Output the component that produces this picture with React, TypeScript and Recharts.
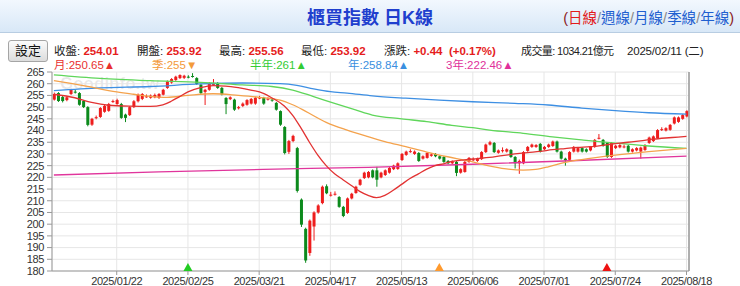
import { Bar, CartesianGrid, ComposedChart, Line, ReferenceDot, XAxis, YAxis } from 'recharts';

// daily candles, index 0 = first trading day shown
const OPEN = [
  253.2, 256.0, 254.3, 253.0, 255.6, 256.6, 256.0, 252.6, 250.0, 242.5,
  245.3, 245.8, 248.0, 248.4, 252.3, 251.3, 251.3, 246.8, 246.6, 250.0,
  252.5, 253.5, 254.4, 254.0, 254.2, 253.9, 255.3, 258.2, 260.5, 261.6,
  262.4, 262.5, 263.0, 263.3, 262.4, 259.6, 256.5, 257.4, 259.5, 260.3,
  258.2, 253.9, 253.4, 253.2, 249.5, 250.5, 251.0, 251.5, 251.5, 254.0,
  254.0, 253.3, 253.2, 251.8, 248.3, 241.5, 230.9, 235.5, 232.5, 210.5,
  198.0, 187.7, 199.0, 205.0, 209.0, 216.2, 212.4, 212.8, 211.6, 207.4,
  204.8, 211.0, 213.3, 216.8, 219.7, 220.0, 223.0, 223.0, 220.0, 221.0,
  222.0, 223.5, 223.6, 227.4, 229.6, 231.0, 230.0, 230.4, 228.0, 228.3,
  229.2, 230.0, 229.0, 228.7, 227.0, 226.0, 226.6, 222.0, 222.3, 226.6,
  227.5, 227.0, 227.8, 230.8, 234.0, 234.7, 230.5, 231.4, 231.0, 231.7,
  228.7, 226.0, 226.0, 231.3, 233.0, 233.0, 234.3, 232.0, 233.0, 233.4,
  235.3, 231.0, 228.0, 227.5, 231.0, 231.0, 232.5, 232.0, 231.5, 233.0,
  236.6, 236.0, 234.7, 228.7, 232.5, 232.8, 233.0, 233.5, 231.0, 231.5,
  231.0, 231.7, 234.7, 235.5, 236.8, 240.3, 240.0, 240.3, 243.0, 243.7,
  245.0, 246.0,
];
const CLOSE = [
  255.6, 252.6, 252.6, 254.2, 257.4, 256.4, 251.0, 250.0, 242.4, 245.0,
  245.7, 249.6, 250.5, 251.3, 252.6, 253.0, 245.4, 245.4, 250.0, 252.5,
  255.3, 255.6, 254.6, 254.9, 255.2, 255.6, 257.4, 261.0, 262.0, 263.0,
  263.7, 263.4, 262.8, 263.1, 259.9, 256.0, 257.4, 260.3, 260.3, 258.2,
  255.4, 251.3, 254.2, 248.9, 250.0, 251.5, 253.0, 253.5, 254.0, 254.1,
  251.5, 253.6, 252.8, 248.9, 242.5, 230.4, 235.5, 237.7, 214.2, 199.8,
  184.5, 201.5, 205.0, 208.0, 216.0, 213.2, 212.6, 213.0, 207.4, 203.5,
  211.0, 213.0, 216.0, 219.0, 222.0, 222.3, 220.0, 219.0, 222.0, 223.0,
  224.0, 225.0, 226.0, 230.0, 231.0, 231.2, 231.0, 227.0, 229.0, 230.4,
  229.8, 229.0, 228.0, 226.6, 226.0, 226.8, 221.9, 223.5, 226.6, 228.3,
  227.7, 228.0, 230.8, 234.0, 235.0, 230.8, 231.5, 231.6, 232.0, 228.7,
  226.0, 227.0, 230.8, 233.0, 234.0, 233.8, 231.0, 233.0, 234.0, 235.3,
  231.0, 228.0, 227.3, 230.8, 233.0, 232.5, 231.0, 231.0, 233.0, 236.0,
  236.9, 233.5, 228.7, 234.7, 233.5, 233.8, 233.2, 231.0, 232.0, 232.5,
  232.7, 233.8, 237.0, 237.5, 240.2, 240.6, 241.0, 242.4, 245.6, 245.6,
  246.6, 248.3,
];
const HIGH = [
  256.2, 256.4, 254.8, 254.6, 257.8, 257.4, 256.4, 253.0, 250.4, 245.4,
  246.4, 250.0, 251.0, 251.8, 253.2, 253.6, 251.8, 247.2, 250.4, 253.0,
  255.8, 256.0, 255.4, 255.4, 255.8, 256.0, 257.8, 261.4, 262.4, 263.4,
  264.0, 263.8, 263.6, 264.5, 262.8, 260.0, 257.8, 260.7, 262.0, 260.7,
  258.6, 254.3, 254.6, 253.6, 250.5, 252.0, 253.4, 253.9, 254.4, 254.8,
  254.4, 254.2, 253.6, 252.2, 248.6, 241.9, 236.0, 238.2, 233.0, 211.0,
  198.5, 202.0, 205.5, 208.5, 216.5, 217.0, 213.8, 214.0, 212.0, 207.8,
  211.4, 213.4, 216.4, 219.4, 222.4, 222.7, 223.4, 224.5, 222.4, 223.4,
  224.4, 225.4, 226.4, 230.4, 231.4, 232.0, 231.5, 230.8, 229.4, 230.8,
  230.4, 230.4, 229.4, 229.1, 227.4, 227.2, 227.0, 223.9, 227.0, 228.7,
  228.5, 228.4, 231.2, 234.4, 235.6, 235.1, 231.9, 232.8, 232.4, 232.1,
  229.1, 227.6, 231.2, 233.4, 234.4, 234.2, 234.7, 233.4, 234.4, 235.7,
  235.7, 231.4, 228.4, 231.2, 233.4, 232.9, 232.9, 232.4, 233.4, 236.4,
  238.5, 236.4, 235.1, 235.1, 233.9, 234.2, 234.0, 233.9, 232.4, 232.9,
  233.1, 234.2, 237.4, 237.9, 240.6, 241.4, 241.4, 242.8, 246.0, 246.0,
  247.0, 248.7,
];
const LOW = [
  252.8, 252.2, 252.0, 252.5, 255.2, 255.8, 250.6, 249.6, 241.8, 242.0,
  244.8, 245.4, 247.6, 248.0, 251.8, 251.0, 245.0, 243.6, 246.2, 249.6,
  252.0, 253.0, 254.0, 253.6, 253.8, 253.5, 255.0, 257.8, 260.0, 261.2,
  262.0, 262.0, 262.3, 262.6, 259.5, 255.5, 250.9, 257.0, 259.2, 257.8,
  255.0, 247.0, 253.0, 248.4, 249.0, 250.0, 250.6, 251.1, 251.0, 253.4,
  251.0, 252.8, 252.3, 248.5, 242.0, 229.8, 230.0, 235.0, 213.5, 198.8,
  183.5, 186.5, 193.0, 204.5, 208.5, 212.8, 211.8, 212.2, 207.0, 203.0,
  204.4, 210.6, 213.0, 216.4, 219.3, 219.6, 219.6, 216.0, 219.6, 220.6,
  221.6, 223.1, 223.2, 227.0, 229.2, 230.5, 229.6, 226.6, 227.6, 228.0,
  228.8, 228.6, 227.6, 226.2, 225.6, 225.6, 220.5, 221.6, 222.0, 226.2,
  227.0, 226.6, 227.4, 230.4, 233.6, 230.4, 230.1, 230.6, 230.6, 228.3,
  223.8, 221.5, 225.6, 230.9, 232.6, 232.6, 230.6, 231.6, 232.6, 233.0,
  230.6, 227.6, 225.0, 227.1, 230.6, 230.6, 230.6, 230.6, 231.1, 232.6,
  236.2, 233.1, 228.3, 228.3, 232.1, 232.4, 232.4, 230.6, 230.6, 231.1,
  228.0, 231.3, 234.3, 235.1, 236.4, 239.8, 239.6, 239.9, 242.6, 243.3,
  244.6, 245.6,
];

// moving averages, [candle index, value]
const MA_MONTH: [number, number][] = [
  [0, 255.5], [5, 254.0], [9, 252.0], [13, 250.8], [18, 250.4], [23, 250.3], [26, 251.0],
  [28, 252.5], [30, 254.5], [32, 256.5], [35, 258.3], [38, 259.2], [41, 259.0], [44, 258.3],
  [47, 257.3], [50, 255.9], [52, 254.0], [55, 250.5], [57, 246.5], [59, 241.0], [61, 235.0],
  [63, 229.5], [65, 225.0], [67, 221.5], [69, 219.0], [71, 216.5], [73, 214.0], [75, 212.3],
  [77, 211.3], [79, 212.3], [81, 214.5], [83, 217.0], [85, 219.5], [87, 221.5], [89, 223.5],
  [91, 225.0], [93, 225.8], [95, 226.8], [98, 227.5], [101, 228.0], [104, 228.5], [107, 229.3],
  [110, 230.0], [113, 230.6], [116, 231.1], [119, 231.8], [122, 232.3], [125, 232.8],
  [128, 233.1], [131, 233.7], [134, 234.4], [137, 235.0], [140, 235.6], [143, 236.3],
  [146, 236.8], [149, 237.2], [151, 237.5],
];
const MA_QUARTER: [number, number][] = [
  [0, 261.3], [7, 259.2], [15, 256.5], [19, 255.5], [23, 254.6], [27, 254.2], [32, 255.0],
  [38, 255.7], [44, 255.0], [49, 254.2], [54, 253.0], [57, 251.0], [60, 248.3], [65, 243.5],
  [70, 240.2], [75, 237.4], [79, 235.3], [84, 233.1], [89, 230.8], [94, 228.8], [99, 227.0],
  [103, 225.2], [108, 223.6], [112, 223.1], [115, 223.4], [118, 224.5], [121, 226.0],
  [126, 227.6], [134, 229.5], [142, 231.0], [151, 232.4],
];
const MA_HALF: [number, number][] = [
  [0, 263.8], [11, 262.3], [23, 261.3], [35, 260.6], [45, 259.5], [52, 258.8], [57, 257.3],
  [62, 254.5], [67, 251.6], [72, 248.8], [76, 246.6], [83, 245.0], [89, 243.8], [95, 242.2],
  [100, 241.2], [104, 240.2], [112, 238.8], [119, 237.3], [126, 236.0], [134, 234.6],
  [142, 233.4], [151, 232.4],
];
const MA_YEAR: [number, number][] = [
  [0, 257.0], [11, 258.2], [23, 258.8], [35, 259.9], [45, 260.3], [54, 260.0], [58, 259.3],
  [62, 257.8], [66, 256.6], [70, 256.0], [76, 254.8], [84, 253.8], [92, 253.0], [100, 252.3],
  [110, 251.6], [118, 250.9], [126, 249.6], [134, 248.5], [142, 247.6], [151, 247.0],
];
const MA_3YEAR: [number, number][] = [
  [0, 221.0], [25, 222.3], [50, 223.4], [75, 224.3], [100, 225.6], [125, 227.2], [151, 229.1],
];

const DATE_TICKS = [15, 32, 49, 66, 83, 100, 117, 134, 151];
const DATE_LABELS = [
  '2025/01/22', '2025/02/25', '2025/03/21', '2025/04/17', '2025/05/13',
  '2025/06/06', '2025/07/01', '2025/07/24', '2025/08/18',
];
const PRICE_TICKS = [180, 185, 190, 195, 200, 205, 210, 215, 220, 225, 230, 235, 240, 245, 250, 255, 260, 265];

// MA window start markers
const MARKERS = [
  { i: 32, color: '#22cc22' },
  { i: 92, color: '#ff9a2e' },
  { i: 132, color: '#ee1111' },
];

const QUOTE = [
  { label: '收盤:', value: '254.01', x: 54 },
  { label: '開盤:', value: '253.92', x: 137 },
  { label: '最高:', value: '255.56', x: 219 },
  { label: '最低:', value: '253.92', x: 301 },
  { label: '漲跌:', value: '+0.44  (+0.17%)', x: 384 },
];

const MA_LEGEND = [
  { text: '月:250.65▲', color: '#e8312f', x: 54 },
  { text: '季:255▼', color: '#f39a3a', x: 152 },
  { text: '半年:261▲', color: '#33cc33', x: 250 },
  { text: '年:258.84▲', color: '#3a8fe0', x: 348 },
  { text: '3年:222.46▲', color: '#e0309a', x: 446 },
];

const RED = '#ee1d1d';
const GREEN = '#0c8a1c';
const FONT = '"Liberation Sans", Arial, "Noto Sans CJK TC", sans-serif';

const candles = OPEN.map((o, i) => ({ i, open: o, close: CLOSE[i], high: HIGH[i], low: LOW[i] }));
const toPoints = (arr: [number, number][]) => arr.map(([i, v]) => ({ i, v }));

function Candle(props: any) {
  const { x, y, width, height, payload } = props;
  if (!payload || y == null || height == null) return null;
  const top = Math.min(y, y + height);
  const bot = Math.max(y, y + height);
  const span = payload.high - payload.low;
  const toY = (p: number) => (span === 0 ? top : top + ((payload.high - p) / span) * (bot - top));
  const up = payload.close >= payload.open;
  const color = up ? RED : GREEN;
  const cx = x + width / 2;
  const yo = toY(payload.open);
  const yc = toY(payload.close);
  const bt = Math.min(yo, yc);
  const bh = Math.max(Math.abs(yo - yc), 1);
  return (
    <g>
      <line x1={cx} x2={cx} y1={top} y2={bot} stroke={color} strokeWidth={1} />
      <rect x={cx - 1.5} y={bt} width={3} height={bh} fill={color} />
    </g>
  );
}

function Marker(props: any) {
  const { cx, cy, color } = props;
  if (cx == null || cy == null) return null;
  return <polygon points={`${cx - 4.5},${cy} ${cx + 4.5},${cy} ${cx},${cy - 8}`} fill={color} />;
}

const axisTick = { fill: '#333', fontSize: 11, letterSpacing: -0.4 };
const rowText = { position: 'absolute' as const, fontSize: 11.5, lineHeight: '16px', whiteSpace: 'pre' as const };

export default function App() {
  return (
    <div
      style={{
        position: 'absolute',
        left: 0,
        top: 0,
        width: 740,
        height: 286,
        overflow: 'hidden',
        background: '#fff',
        fontFamily: FONT,
      }}
    >
      <div
        style={{
          position: 'absolute',
          left: 0,
          top: 0,
          width: 740,
          height: 32,
          background: 'linear-gradient(#f2f8fe, #d8e8f7)',
          borderBottom: '1px solid #b8cde2',
        }}
      />
      <div
        style={{
          position: 'absolute',
          left: 0,
          top: 7,
          width: 740,
          textAlign: 'center',
          fontSize: 18,
          lineHeight: '22px',
          fontWeight: 'bold',
          color: '#1f3fce',
        }}
      >
        櫃買指數 日K線
      </div>
      <div style={{ position: 'absolute', right: 6, top: 8, fontSize: 14.5, lineHeight: '20px', color: '#8a1a1a' }}>
        (<span style={{ color: '#e21b1b' }}>日線</span>
        <span style={{ color: '#888' }}>/</span>
        <span style={{ color: '#1f5fd0' }}>週線</span>
        <span style={{ color: '#888' }}>/</span>
        <span style={{ color: '#1f5fd0' }}>月線</span>
        <span style={{ color: '#888' }}>/</span>
        <span style={{ color: '#1f5fd0' }}>季線</span>
        <span style={{ color: '#888' }}>/</span>
        <span style={{ color: '#1f5fd0' }}>年線</span>)
      </div>

      <div
        style={{
          position: 'absolute',
          left: 8,
          top: 40,
          width: 38,
          height: 20,
          border: '1px solid #a5a5a5',
          borderRadius: 3,
          background: 'linear-gradient(#fbfbfb, #dcdcdc)',
          fontSize: 13,
          lineHeight: '20px',
          textAlign: 'center',
          color: '#111',
        }}
      >
        設定
      </div>
      {QUOTE.map((q) => (
        <div key={q.label} style={{ ...rowText, left: q.x, top: 43, color: '#222' }}>
          {q.label} <span style={{ color: '#e51c1c', fontWeight: 'bold' }}>{q.value}</span>
        </div>
      ))}
      <div style={{ ...rowText, left: 521, top: 43, color: '#222', fontSize: 11, letterSpacing: -0.6 }}>
        成交量: 1034.21億元
      </div>
      <div style={{ ...rowText, left: 627, top: 43, color: '#222', letterSpacing: -0.2 }}>2025/02/11 (二)</div>
      {MA_LEGEND.map((m) => (
        <div key={m.text} style={{ ...rowText, left: m.x, top: 57, color: m.color }}>
          {m.text}
        </div>
      ))}

      <div
        style={{
          position: 'absolute',
          left: 60,
          top: 74,
          fontSize: 17,
          fontWeight: 'bold',
          color: 'rgba(0,0,0,0.09)',
        }}
      >
        Goodinfo.tw
      </div>

      <div style={{ position: 'absolute', left: 0, top: 0 }}>
        <ComposedChart
          width={740}
          height={286}
          data={candles}
          margin={{ top: 72, right: 0, bottom: 0, left: 0 }}
          style={{ fontFamily: FONT }}
        >
          <CartesianGrid yAxisId="left" stroke="#e6e6e6" />
          <XAxis
            dataKey="i"
            type="number"
            domain={[-0.45, 151.6]}
            allowDataOverflow
            ticks={DATE_TICKS}
            interval={0}
            tickFormatter={(v: number) => DATE_LABELS[DATE_TICKS.indexOf(v)] ?? ''}
            height={15}
            tickSize={4}
            tickMargin={2}
            tick={axisTick}
            axisLine={{ stroke: '#999' }}
            tickLine={{ stroke: '#999' }}
          />
          <YAxis
            yAxisId="left"
            orientation="left"
            domain={[180, 265]}
            ticks={PRICE_TICKS}
            interval={0}
            width={52}
            tickSize={5}
            tickMargin={3}
            tick={axisTick}
            axisLine={{ stroke: '#999' }}
            tickLine={{ stroke: '#999' }}
          />
          <YAxis
            yAxisId="right"
            orientation="right"
            domain={[180, 265]}
            ticks={PRICE_TICKS}
            interval={0}
            width={51}
            tickSize={5}
            tickMargin={2}
            tick={axisTick}
            axisLine={{ stroke: '#999', strokeWidth: 1.5 }}
            tickLine={{ stroke: '#999' }}
          />
          <Line yAxisId="left" data={toPoints(MA_3YEAR)} dataKey="v" type="monotone" stroke="#e0359c" strokeWidth={1.3} dot={false} isAnimationActive={false} />
          <Line yAxisId="left" data={toPoints(MA_YEAR)} dataKey="v" type="monotone" stroke="#3d8fe3" strokeWidth={1.3} dot={false} isAnimationActive={false} />
          <Line yAxisId="left" data={toPoints(MA_HALF)} dataKey="v" type="monotone" stroke="#5fd65a" strokeWidth={1.3} dot={false} isAnimationActive={false} />
          <Line yAxisId="left" data={toPoints(MA_QUARTER)} dataKey="v" type="monotone" stroke="#f4a24c" strokeWidth={1.3} dot={false} isAnimationActive={false} />
          <Line yAxisId="left" data={toPoints(MA_MONTH)} dataKey="v" type="monotone" stroke="#e23232" strokeWidth={1.3} dot={false} isAnimationActive={false} />
          <Bar
            yAxisId="left"
            dataKey={(d: any) => [d.low, d.high]}
            barSize={3}
            shape={<Candle />}
            isAnimationActive={false}
          />
          {MARKERS.map((m) => (
            <ReferenceDot
              key={m.i}
              yAxisId="left"
              x={m.i}
              y={180}
              r={4}
              ifOverflow="visible"
              shape={(p: any) => <Marker {...p} color={m.color} />}
            />
          ))}
        </ComposedChart>
      </div>
    </div>
  );
}
